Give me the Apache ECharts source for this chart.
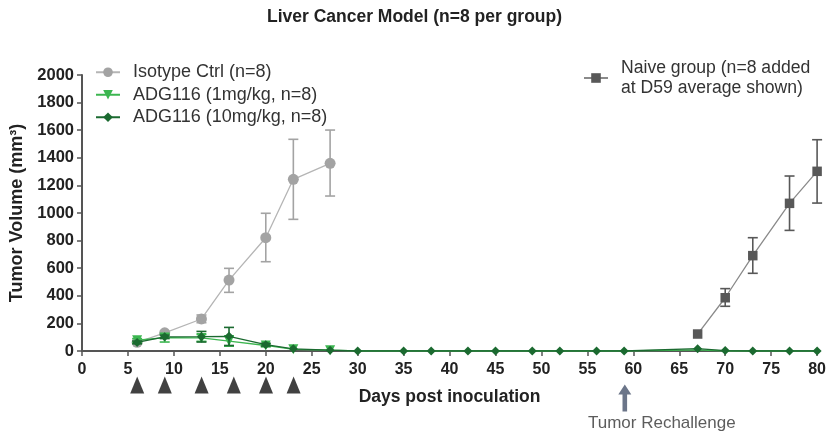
<!DOCTYPE html>
<html>
<head>
<meta charset="utf-8">
<script src="https://cdn.jsdelivr.net/npm/echarts@6/dist/echarts.min.js"></script>
<style>html,body{margin:0;padding:0;background:#fff}#c{width:829px;height:440px}</style>
</head>
<body>
<div id="c"></div>
<script>
// ---- data ----
const titleText = 'Liver Cancer Model (n=8 per group)';
const isoDays = [6, 9, 13, 16, 20, 23, 27];
const isoVals = [63, 132, 232, 514, 821, 1244, 1360];
const isoLow  = [null, null, 205, 425, 647, 954, 1123];
const isoHigh = [null, null, 261, 599, 998, 1534, 1601];

const grnDays = [6, 9, 13, 16, 20, 23, 27, 30, 35, 38, 42, 45, 49, 52, 56, 59, 67, 70, 73, 77, 80];
const low1Vals = [78, 97, 95, 72, 40, 12, 6, 0, 0, 0, 0, 0, 0, 0, 0, 0, 8, 0, 0, 0, 0];
const low1Low  = [62, 65, 70, 35, 30, null, null];
const low1High = [90, 125, 120, 110, 50, null, null];
const hi10Vals = [62, 103, 104, 106, 46, 16, 6, 0, 0, 0, 0, 0, 0, 0, 0, 0, 17, 3, 0, 0, 0];
const hi10Low  = [52, 90, 65, 40, 36, null, null];
const hi10High = [72, 115, 142, 171, 56, null, null];

const naiveDays = [67, 70, 73, 77, 80];
const naiveVals = [123, 386, 691, 1070, 1302];
const naiveLow  = [null, 324, 563, 874, 1072];
const naiveHigh = [null, 452, 821, 1268, 1531];

const doseDays = [6, 9, 13, 16.5, 20, 23];
const rechallengeDay = 59;
const rechallengeText = 'Tumor Rechallenge';

const yTicks = [0, 200, 400, 600, 800, 1000, 1200, 1400, 1600, 1800, 2000];
const xTicks = [0, 5, 10, 15, 20, 25, 30, 35, 40, 45, 50, 55, 60, 65, 70, 75, 80];

const names = ['Isotype Ctrl (n=8)', 'ADG116 (1mg/kg, n=8)', 'ADG116 (10mg/kg, n=8)', 'Naive group (n=8 added\nat D59 average shown)'];
const FONT = '"Liberation Sans", Arial, sans-serif';

function pairs(xs, ys) { return xs.map((x, i) => [x, ys[i]]); }
function errData(xs, lo, hi) {
  const out = [];
  xs.forEach((x, i) => { if (lo[i] != null && hi[i] != null) out.push([x, lo[i], hi[i]]); });
  return out;
}
function errSeries(data, color, z) {
  return {
    type: 'custom', xAxisIndex: 0, yAxisIndex: 0, z: z, silent: true,
    data: data, encode: { x: 0, y: [1, 2] },
    renderItem: function (params, api) {
      const x = api.value(0);
      const pLo = api.coord([x, api.value(1)]);
      const pHi = api.coord([x, api.value(2)]);
      const w = 5;
      const st = { stroke: color, lineWidth: 1.6 };
      return { type: 'group', children: [
        { type: 'line', shape: { x1: pLo[0], y1: pLo[1], x2: pHi[0], y2: pHi[1] }, style: st },
        { type: 'line', shape: { x1: pLo[0] - w, y1: pLo[1], x2: pLo[0] + w, y2: pLo[1] }, style: st },
        { type: 'line', shape: { x1: pHi[0] - w, y1: pHi[1], x2: pHi[0] + w, y2: pHi[1] }, style: st }
      ]};
    }
  };
}

const cIso = '#a3a3a3', cIsoLine = '#b5b5b5';
const cG1 = '#3cb650', cG10 = '#1b6a30';
const cNaive = '#585858', cNaiveLine = '#8a8a8a';

// light-green markers after day 27 lie under the dark-green ones in the reference
const low1Data = grnDays.map((d, i) => d > 27 ? { value: [d, low1Vals[i]], symbol: 'none' } : [d, low1Vals[i]]);

const chart = echarts.init(document.getElementById('c'), null, { renderer: 'canvas' });
chart.setOption({
  animation: false,
  backgroundColor: '#fff',
  textStyle: { fontFamily: FONT },
  title: { text: titleText, left: 'center', top: 3,
    textStyle: { fontFamily: FONT, fontSize: 17.5, fontWeight: 'bold', color: '#222' } },
  legend: [{
    data: names.slice(0, 3), orient: 'vertical', left: 90, top: 57,
    itemWidth: 24, itemHeight: 12, itemGap: 2,
    textStyle: { fontFamily: FONT, fontSize: 18, color: '#333', lineHeight: 20.5, padding: [0, 0, 0, 8] }
  }, {
    data: [names[3]], orient: 'vertical', left: 578, top: 53,
    itemWidth: 24, itemHeight: 12,
    textStyle: { fontFamily: FONT, fontSize: 17.6, color: '#333', lineHeight: 20, padding: [0, 0, 0, 8] }
  }],
  grid: [
    { left: 82, right: 11, top: 75, bottom: 89 },
    { left: 82, right: 11, top: 370, height: 52 }
  ],
  xAxis: [{
    type: 'value', gridIndex: 0, min: 0, max: 80, interval: 5,
    name: 'Days post inoculation', nameLocation: 'middle', nameGap: 37,
    nameTextStyle: { fontFamily: FONT, fontSize: 17.5, fontWeight: 'bold', color: '#222' },
    axisLine: { lineStyle: { color: '#555', width: 2 } },
    axisTick: { length: 5, lineStyle: { color: '#555', width: 1.5 } },
    axisLabel: { fontFamily: FONT, fontSize: 16, fontWeight: 'bold', color: '#222', margin: 11,
      formatter: v => xTicks.indexOf(v) >= 0 ? String(v) : '' },
    splitLine: { show: false }
  }, {
    type: 'value', gridIndex: 1, min: 0, max: 80, show: false
  }],
  yAxis: [{
    type: 'value', gridIndex: 0, min: 0, max: 2000, interval: 200,
    name: 'Tumor Volume (mm³)', nameLocation: 'middle', nameGap: 56,
    nameTextStyle: { fontFamily: FONT, fontSize: 18, fontWeight: 'bold', color: '#222' },
    axisLine: { show: true, lineStyle: { color: '#555', width: 2 } },
    axisTick: { show: true, length: 5, lineStyle: { color: '#555', width: 1.5 } },
    axisLabel: { fontFamily: FONT, fontSize: 16.5, fontWeight: 'bold', color: '#222', margin: 8,
      formatter: v => yTicks.indexOf(v) >= 0 ? String(v) : '' },
    splitLine: { show: false }
  }, {
    type: 'value', gridIndex: 1, min: 0, max: 52, inverse: true, show: false
  }],
  series: [
    errSeries(errData(isoDays, isoLow, isoHigh), cIso, 2),
    { name: names[0], type: 'line', data: pairs(isoDays, isoVals), z: 3,
      symbol: 'circle', symbolSize: 11, showAllSymbol: true,
      itemStyle: { color: cIso }, lineStyle: { color: cIsoLine, width: 1.3 } },
    errSeries(errData(grnDays, low1Low, low1High), cG1, 4),
    { name: names[1], type: 'line', data: low1Data, z: 5,
      symbol: 'triangle', symbolRotate: 180, symbolSize: 10, showAllSymbol: true,
      itemStyle: { color: cG1 }, lineStyle: { color: cG1, width: 1.3 } },
    errSeries(errData(grnDays, hi10Low, hi10High), cG10, 6),
    { name: names[2], type: 'line', data: pairs(grnDays, hi10Vals), z: 7,
      symbol: 'diamond', symbolSize: 9, showAllSymbol: true,
      itemStyle: { color: cG10 }, lineStyle: { color: cG10, width: 1.3 } },
    errSeries(errData(naiveDays, naiveLow, naiveHigh), cNaive, 8),
    { name: names[3], type: 'line', data: pairs(naiveDays, naiveVals), z: 9,
      symbol: 'rect', symbolSize: 9.5, showAllSymbol: true,
      itemStyle: { color: cNaive }, lineStyle: { color: cNaiveLine, width: 1.3 } },
    { type: 'scatter', xAxisIndex: 1, yAxisIndex: 1, silent: true,
      data: doseDays.map(d => [d, 15]), symbol: 'triangle', symbolSize: [14, 17],
      itemStyle: { color: '#111' } },
    { type: 'scatter', xAxisIndex: 1, yAxisIndex: 1, silent: true,
      data: [[rechallengeDay, 28]],
      symbol: 'path://M6.5,0 L13,10 L8.8,10 L8.8,27 L4.2,27 L4.2,10 L0,10 Z', symbolSize: [13, 27],
      itemStyle: { color: '#46536b' },
      label: { show: true, position: 'bottom', distance: 3, offset: [37, 0],
        formatter: rechallengeText, fontFamily: FONT, fontSize: 17, color: '#333' } }
  ]
});
</script>
</body>
</html>
